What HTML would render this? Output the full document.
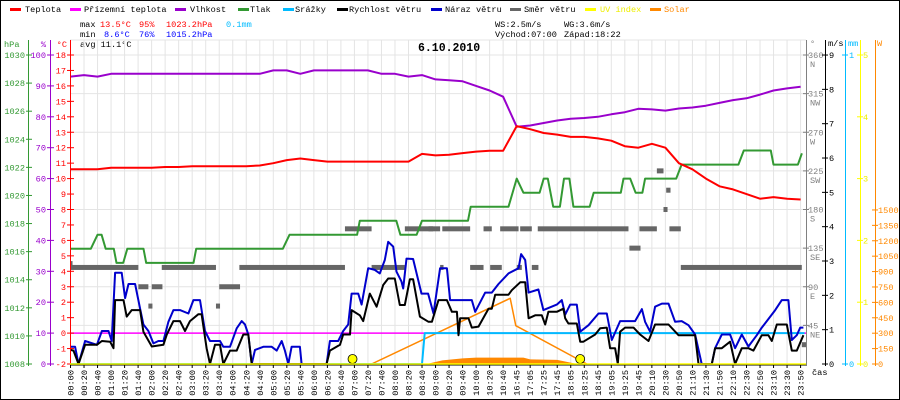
<!DOCTYPE html>
<html><head><meta charset="utf-8"><style>
html,body{margin:0;padding:0;background:#fff}
svg{display:block}
text{font-family:"Liberation Mono",monospace;font-size:8.6px}
</style></head><body>
<svg id="c" width="900" height="400" viewBox="0 0 900 400" xmlns="http://www.w3.org/2000/svg">
<rect x="0.5" y="0.5" width="899" height="399" fill="#fff" stroke="#000"/>
<g id="legend">
 <g><rect x="10" y="8" width="11" height="3" fill="#f00"/><text x="25" y="12">Teplota</text></g>
 <g><rect x="70" y="8" width="11" height="3" fill="#f0f"/><text x="84" y="12">Přízemní teplota</text></g>
 <g><rect x="175" y="8" width="11" height="3" fill="#90c"/><text x="190" y="12">Vlhkost</text></g>
 <g><rect x="238" y="8" width="11" height="3" fill="#393"/><text x="250" y="12">Tlak</text></g>
 <g><rect x="283" y="8" width="11" height="3" fill="#0bf"/><text x="295" y="12">Srážky</text></g>
 <g><rect x="337" y="8" width="11" height="3" fill="#000"/><text x="349" y="12">Rychlost větru</text></g>
 <g><rect x="431" y="8" width="11" height="3" fill="#00c"/><text x="445" y="12">Náraz větru</text></g>
 <g><rect x="510" y="8" width="11" height="3" fill="#666"/><text x="524" y="12">Směr větru</text></g>
 <g><rect x="585" y="8" width="11" height="3" fill="#ff0"/><text x="600" y="12" fill="#ee0">UV index</text></g>
 <g><rect x="650" y="8" width="11" height="3" fill="#f80"/><text x="664" y="12" fill="#f80">Solar</text></g>
</g>
<g>
 <text x="80" y="27">max</text><text x="100" y="27" fill="#f00">13.5°C</text><text x="139" y="27" fill="#f00">95%</text><text x="166" y="27" fill="#f00">1023.2hPa</text><text x="226" y="27" fill="#0bf">0.1mm</text>
 <text x="80" y="37">min</text><text x="104" y="37" fill="#00f">8.6°C</text><text x="139" y="37" fill="#00f">76%</text><text x="166" y="37" fill="#00f">1015.2hPa</text>
 <text x="80" y="47">avg 11.1°C</text>
 <text x="495" y="27">WS:2.5m/s</text><text x="564" y="27">WG:3.6m/s</text>
 <text x="495" y="37">Východ:07:00</text><text x="564" y="37">Západ:18:22</text>
</g>
<g id="grid"></g>
<text x="418" y="51" style="font-size:11.5px;font-weight:bold">6.10.2010</text>
<g id="series"></g>
<g id="axes"></g>
</svg>
<script>
// ---- data ----
const timeLabels = ["00:00","00:20","00:40","01:00","01:20","01:40","02:00","02:20","02:40","03:00","03:20","03:40","04:00","04:20","04:40","05:00","05:20","05:40","06:00","06:20","06:40","07:00","07:20","07:40","08:00","08:20","08:40","09:00","09:20","09:40","10:00","10:20","10:40","16:45","17:05","17:25","17:45","18:05","18:25","18:45","19:05","19:25","19:45","20:10","20:30","20:50","21:10","21:30","21:50","22:10","22:30","22:50","23:10","23:30","23:50"];
const tempValues = [10.6,10.6,10.6,10.7,10.7,10.7,10.7,10.75,10.75,10.8,10.8,10.8,10.8,10.8,10.85,11.0,11.2,11.3,11.2,11.1,11.1,11.1,11.1,11.1,11.1,11.1,11.6,11.5,11.55,11.65,11.75,11.8,11.8,13.4,13.2,12.95,12.85,12.7,12.7,12.6,12.45,12.1,12.0,12.25,12.0,11.0,10.6,10.0,9.5,9.3,9.0,8.7,8.8,8.7,8.65];
const humValues = [93,93.5,93,93.9,93.9,93.9,93.9,93.9,93.9,93.9,93.9,93.9,93.9,93.9,93.9,95,95,93.9,95,95,95,95,95,93.9,93.9,93,93.5,92.1,91.8,91.5,90,88.5,86.5,76.8,77.2,78,78.8,79.4,79.6,80,80.8,81.5,82.6,82.4,82,82.7,83,83.6,84.5,85.4,86,87.2,88.5,89.2,89.7];
const presT = [0,1.5,2.0,2.3,2.6,3.2,3.4,3.9,4.2,5.4,5.6,9.1,9.3,15.7,16.2,21.2,21.4,24.1,24.4,25.6,26.0,29.4,29.6,32.4,33.0,33.5,34.7,35.0,35.3,35.7,36.2,36.5,36.9,37.2,38.4,38.7,40.7,40.9,41.4,41.8,42.3,42.5,44.8,45.2,49.4,49.8,51.8,52.0,53.8,54.1];
const presV = [1016.2,1016.2,1017.2,1017.2,1016.2,1016.2,1015.2,1015.2,1016.2,1016.2,1015.2,1015.2,1016.2,1016.2,1017.2,1017.2,1018.2,1018.2,1017.2,1017.2,1018.2,1018.2,1019.2,1019.2,1021.2,1020.2,1020.2,1021.2,1021.2,1019.2,1019.2,1021.2,1021.2,1019.2,1019.2,1020.2,1020.2,1021.2,1021.2,1020.2,1020.2,1021.2,1021.2,1022.2,1022.2,1023.2,1023.2,1022.2,1022.2,1023.0];
const windT = [0,0.22,0.59,1.08,1.95,2.32,2.93,3.18,3.3,3.92,4.16,4.53,5.15,5.39,6.01,6.87,7.12,7.61,8.1,8.47,8.84,9.46,9.7,10.07,10.32,10.69,11.06,11.3,11.8,12.29,12.78,13.15,13.4,18.94,19.19,19.93,20.17,20.67,20.79,21.4,21.65,22.14,22.64,23.13,23.5,23.99,24.36,24.73,25.1,25.34,25.84,26.48,26.73,27.22,27.84,28.21,28.58,28.7,28.82,29.44,29.68,30.18,30.92,31.16,31.41,32.4,32.64,33.26,33.63,33.88,34.37,34.86,35.11,35.35,35.97,36.46,36.59,36.83,37.45,37.7,37.94,38.81,39.18,39.67,39.91,40.28,40.48,40.65,41.02,41.64,42.13,42.75,43.24,44.23,44.97,46.2,46.45,47.43,47.68,48.17,48.79,49.16,49.65,50.14,50.51,51.13,51.62,51.87,52.24,52.98,53.35,53.72,54.21];
const windV = [0.41,0.39,0,0.56,0.56,0.67,0.65,0.46,1.86,1.86,1.38,1.57,1.57,0.94,0.51,0.56,0.86,1.25,1.25,0.96,1.25,1.45,1.45,0.46,0,0.56,0.56,0,0.39,0.39,0.86,0.86,0,0,0.39,0.56,0.86,0.86,1.57,1.42,1.25,2.05,1.67,2.3,2.49,2.49,1.72,1.72,2.47,2.47,1.38,1.23,1.23,1.86,1.86,1.52,1.52,0.84,1.33,1.33,1.06,1.09,1.61,1.61,2.02,2.02,2.15,2.38,2.38,1.33,1.42,1.42,1.15,1.52,1.52,1.61,1.33,1.18,1.18,0.65,0.65,0.86,1.04,1.06,0.46,0.46,0,0.94,1.06,1.06,0.86,0.67,1.15,1.15,0.84,0.84,0,0,0.46,0.46,0.65,0,0.46,0.46,0.39,0.84,0.84,0.67,1.15,1.15,0.39,0.39,0.84];
const gustT = [0,0.34,0.59,1.08,1.95,2.32,2.81,3.05,3.3,3.79,4.04,4.29,4.78,5.15,5.39,5.76,6.13,6.5,6.87,7.24,7.61,8.1,8.72,9.09,9.58,9.95,10.32,11.06,11.3,11.8,12.29,12.66,12.91,13.15,13.4,13.65,14.26,14.88,15.25,15.62,15.86,16.11,16.35,16.97,17.09,18.94,19.19,19.8,20.17,20.54,20.79,21.28,21.53,22.02,22.51,22.88,23.25,23.5,23.87,24.11,24.48,24.61,24.85,25.34,25.96,26.45,26.85,27.34,27.84,28.08,28.7,29.68,29.93,30.67,31.16,31.66,32.4,33.14,33.33,33.63,33.88,34.61,34.98,35.97,36.34,36.59,36.96,37.45,37.7,38.31,39.05,39.67,40.04,40.65,41.76,42.26,42.5,42.87,43.24,43.74,44.23,44.72,45.21,45.71,46.2,46.69,47.43,47.68,48.17,48.79,49.16,49.65,50.14,50.76,51.13,51.5,52.12,52.61,53.1,53.35,53.72,53.97,54.21];
const gustV = [0.5,0.5,0,0.67,0.56,0.96,0.96,0.67,2.66,2.66,1.92,2.33,2.33,1.61,1.15,0.96,0.6,0.67,0.67,1.23,1.57,1.57,1.47,1.86,1.86,0.96,0.67,0.67,0.5,0.5,1.04,1.25,1.15,0.86,0,0.41,0.5,0.5,0.39,0.67,0.39,0,0.5,0.5,0,0,0.67,0.67,0.96,1.15,2.05,2.05,1.73,2.79,2.74,2.64,3.03,3.56,3.42,2.69,2.4,2.2,3.07,3.06,2.05,2.05,1.47,2.79,2.79,1.86,1.86,1.86,1.52,2.08,2.08,2.33,2.64,2.79,3.2,3.03,2.08,2.17,1.57,1.73,1.86,1.44,1.73,1.73,0.94,1.13,1.47,1.47,0.7,1.25,1.25,1.6,1.23,0.94,1.67,1.76,1.76,1.23,1.25,1.13,0.86,0,0,0.46,0.86,0.86,0.46,0.86,0.51,0.84,1.06,1.25,1.57,1.86,1.86,0.7,0.84,1.06,1.06];
const dirStart = [0,0.02,5.02,6.01,5.76,6.75,10.76,11.0,12.49,20.3,22.27,24.73,26.48,27.5,27.34,29.56,30.55,31.04,31.78,33.01,33.26,34.12,34.56,41.34,42.08,43.37,44.06,43.86,44.3,45.14,54.09];
const dirEnd   = [0.15,5.02,5.76,6.8,6.06,10.76,11.06,12.54,20.3,22.27,24.73,26.82,27.34,29.56,27.59,30.55,31.16,31.9,33.14,33.38,34.12,34.61,41.27,42.16,43.37,43.86,44.38,44.16,45.14,54.09,54.4];
const dirVal   = [117,112.5,90,90,67.5,112.5,67.5,90,112.5,157.5,112.5,157.5,157.5,157.5,112.5,112.5,157.5,112.5,157.5,112.5,157.5,112.5,157.5,135,157.5,225,202.5,180,157.5,112.5,22.5];
const rainT = [0,26.0,26.2,54.3];
const rainV = [0,0,0.1,0.1];
const solarMaxT = [22.27,32.52,32.94,38.19];
const solarMaxV = [0,640,373,0];
const solarT = [26.3,26.5,27.5,29.0,30.0,33.5,34.0,36.0,37.3,37.5];
const solarV = [0,5,35,55,62,62,45,40,5,0];
const sunEvents = [20.86,37.7];

// ---- scales ----
const X = i => 70.5 + 13.52 * i;
const YT = t => 364 - (t + 2) * 15.45;
const YH = h => 364 - h * 3.09;
const YP = p => 364 - (p - 1008) * 14.045;
const YW = w => Math.min(364, 364 - w * 34.33);
const YD = d => 364 - d * 0.8583;
const YR = r => 364 - r * 309;
const YS = s => 364 - s * 0.1027;
const NS = "http://www.w3.org/2000/svg";
function mk(tag, attrs, parent) { const e = document.createElementNS(NS, tag); for (const k in attrs) e.setAttribute(k, attrs[k]); parent.appendChild(e); return e; }
const grid = document.getElementById('grid'), ser = document.getElementById('series'), ax = document.getElementById('axes');

// grid
for (let i = 0; i < timeLabels.length; i++) {
  const g = mk('line', {x1: X(i), x2: X(i), y1: 40, y2: 364, stroke: '#e4e4e4', 'stroke-width': 1}, grid);
  
  
}
for (let k = 0; k <= 8; k++) {
  const y = 364 - k * 38.625;
  const g = mk('line', {x1: 70, x2: 806, y1: y, y2: y, stroke: '#e4e4e4', 'stroke-width': 1}, grid);
  
  
}
const gt = mk('line', {x1: 70, x2: 806, y1: 40, y2: 40, stroke: '#e4e4e4'}, grid);



function poly(xs, ys, color, w, name) {
  const pts = xs.map((x, j) => x.toFixed(1) + ',' + ys[j].toFixed(1)).join(' ');
  const p = mk('polyline', {points: pts, fill: 'none', stroke: color, 'stroke-width': w, 'stroke-linejoin': 'round'}, ser);
  
  
  return p;
}
// solar fill
{
  const pts = solarT.map((t, j) => X(t).toFixed(1) + ',' + YS(solarV[j]).toFixed(1));
  pts.push(X(solarT[solarT.length-1]) + ',364', X(solarT[0]) + ',364');
  const p = mk('polygon', {points: pts.join(' '), fill: '#f80'}, ser);
  
  
}
poly(solarMaxT.map(X), solarMaxV.map(YS), '#f80', 1.5, 'solar-max-line');
// ground temperature line at 0
{
  const l = mk('line', {x1: 70, x2: 806, y1: YT(0), y2: YT(0), stroke: '#f0f', 'stroke-width': 1.5}, ser);
  
  
}
poly(rainT.map(X), rainV.map(YR), '#0bf', 2, 'rain-line');
// direction bars
for (let j = 0; j < dirVal.length; j++) {
  const r = mk('rect', {x: X(dirStart[j]), y: YD(dirVal[j]) - 2.5, width: Math.max(2, X(dirEnd[j]) - X(dirStart[j])), height: 5, fill: '#666'}, ser);
  
  
}
poly(presT.map(X), presV.map(YP), '#393', 2, 'pressure-line');
poly(gustT.map(X), gustV.map(YW), '#00c', 2, 'wind-gust-line');
poly(windT.map(X), windV.map(YW), '#000', 2, 'wind-speed-line');
poly(humValues.map((v, i) => X(i)), humValues.map(YH), '#90c', 2, 'humidity-line');
poly(tempValues.map((v, i) => X(i)), tempValues.map(YT), '#f00', 2, 'temperature-line');
// sunrise / sunset markers
for (const s of sunEvents) {
  const c = mk('circle', {cx: X(s), cy: 359, r: 4.5, fill: '#ff0', stroke: '#000', 'stroke-width': 0.8}, ser);
  
  
}

// axes
function txt(x, y, s, color, anchor, name, extra) {
  const t = mk('text', Object.assign({x: x, y: y, fill: color, 'text-anchor': anchor || 'start'}, extra || {}), ax);
  t.textContent = s;
  
  
  return t;
}
function vline(x, y1, y2, color, name, w) {
  const l = mk('line', {x1: x, x2: x, y1: y1, y2: y2, stroke: color, 'stroke-width': w || 1}, ax);
  
  
}
function tick(x1, x2, y, color) {
  const l = mk('line', {x1: x1, x2: x2, y1: y, y2: y, stroke: color}, ax);
  
  
}
// hPa
vline(28.5, 40, 366, '#393', 'pressure-axis');
txt(4, 47, 'hPa', '#393', 'start', 'pressure-axis-title');
for (let p = 1008; p <= 1030; p += 2) { tick(26, 32, YP(p), '#393'); txt(25, YP(p) + 3, String(p), '#393', 'end', 'pressure-tick-label'); }
// %
vline(50.5, 40, 366, '#90c', 'humidity-axis');
txt(46, 47, '%', '#90c', 'end', 'humidity-axis-title');
for (let h = 0; h <= 100; h += 10) { tick(47, 54, YH(h), '#90c'); txt(46, YH(h) + 3, String(h), '#90c', 'end', 'humidity-tick-label'); }
// °C
vline(70.5, 40, 366, '#f00', 'temperature-axis');
txt(67, 47, '°C', '#f00', 'end', 'temperature-axis-title');
for (let t = -2; t <= 18; t++) { tick(67, 74, YT(t), '#f00'); txt(66, YT(t) + 3, String(t), '#f00', 'end', 'temperature-tick-label'); }
// direction
const dirNames = ['', 'NE', 'E', 'SE', 'S', 'SW', 'W', 'NW', 'N'];
vline(806.5, 40, 366, '#808080', 'direction-axis');
txt(810, 46, '°', '#808080', 'start', 'direction-axis-title');
for (let k = 1; k <= 8; k++) { const d = k * 45; tick(803, 809, YD(d), '#808080'); txt(808, YD(d) + 3, String(d), '#808080', 'start', 'direction-tick-label'); txt(810, YD(d) + 12, dirNames[k], '#808080', 'start', 'direction-name-label'); }
// m/s
vline(825.5, 40, 366, '#000', 'wind-axis');
txt(828, 46, 'm/s', '#000', 'start', 'wind-axis-title');
for (let w = 0; w <= 9; w++) { tick(822, 828, YW(w), '#000'); txt(829, YW(w) + 3, String(w), '#000', 'start', 'wind-tick-label'); }
// mm
vline(845.5, 40, 366, '#0bf', 'rain-axis');
txt(848, 46, 'mm', '#0bf', 'start', 'rain-axis-title');
for (let r = 0; r <= 1; r++) { tick(842, 848, YR(r), '#0bf'); txt(849, YR(r) + 3, String(r), '#0bf', 'start', 'rain-tick-label'); }
// UV
vline(860.5, 40, 366, '#ff0', 'uv-axis');
for (let u = 0; u <= 5; u++) { const y = 364 - u * 61.8; tick(857, 863, y, '#ff0'); txt(863, y + 3, String(u), '#ee0', 'start', 'uv-tick-label'); }
// W
vline(875.5, 40, 366, '#f80', 'solar-axis');
txt(877, 46, 'W', '#f80', 'start', 'solar-axis-title');
for (let s = 0; s <= 1500; s += 150) { tick(872, 878, YS(s), '#f80'); txt(878, YS(s) + 3, String(s), '#f80', 'start', 'solar-tick-label'); }
// x axis
{
  const l = mk('line', {x1: 70, x2: 806, y1: 365, y2: 365, stroke: '#000'}, ax);
  
  
  const u = mk('line', {x1: 70, x2: 806, y1: 364, y2: 364, stroke: '#ff0', 'stroke-width': 1.5}, ax);
  
  
}
for (let i = 0; i < timeLabels.length; i++) {
  const x = X(i);
  const tk = mk('line', {x1: x, x2: x, y1: 365, y2: 368, stroke: '#000'}, ax);
  
  
  txt(x + 3, 370, timeLabels[i], '#000', 'end', 'x-tick-label', {transform: 'rotate(-90 ' + (x + 3) + ' 370)'});
}
txt(812, 375, 'čas', '#000', 'start', 'x-axis-title');
</script>
</body></html>
